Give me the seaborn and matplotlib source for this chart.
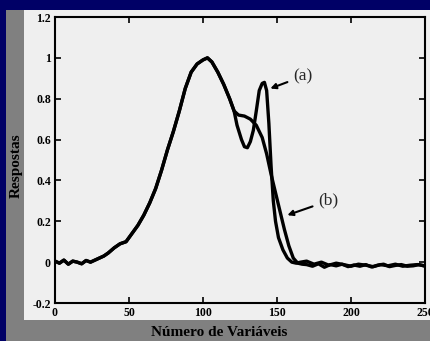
import numpy as np
import pandas as pd
import matplotlib
matplotlib.use("Agg")
import matplotlib.pyplot as plt
import seaborn as sns
from matplotlib.patches import Rectangle

# ---- data ----
x_common = [0, 3, 6, 9, 12, 15, 18, 21, 24, 27, 30, 33, 36, 40, 44, 48, 52, 56, 60, 64,
            68, 72, 76, 80, 84, 88, 92, 96, 100, 103, 106, 110, 114, 118, 121]
y_common = [0.005, -0.005, 0.01, -0.01, 0.005, 0.0, -0.008, 0.008, 0.0, 0.01, 0.02, 0.03,
            0.045, 0.07, 0.09, 0.10, 0.14, 0.18, 0.23, 0.29, 0.36, 0.45, 0.55, 0.64, 0.74,
            0.85, 0.93, 0.97, 0.99, 1.0, 0.98, 0.93, 0.87, 0.80, 0.74]

x_tail_b = [124, 128, 132, 136, 140, 143, 146, 149, 152, 155, 158, 161, 164, 167, 170,
            174, 178, 182, 186, 190, 194, 198, 202, 206, 210, 214, 218, 222, 226, 230,
            234, 238, 242, 246, 250]
y_tail_b = [0.72, 0.715, 0.70, 0.67, 0.61, 0.53, 0.43, 0.34, 0.25, 0.16, 0.08, 0.02,
            -0.005, -0.01, -0.012, -0.02, -0.008, -0.025, -0.012, -0.018, -0.01, -0.022,
            -0.014, -0.02, -0.012, -0.024, -0.015, -0.01, -0.022, -0.016, -0.012, -0.02,
            -0.018, -0.012, -0.02]

x_tail_a = [123, 126, 128, 130, 132, 134, 136, 138, 140, 141.5, 143, 144.5, 146, 147.5,
            149, 151, 154, 157, 160, 163, 166, 170, 175, 180, 185, 190, 195, 200, 205,
            210, 215, 220, 225, 230, 235, 240, 245, 250]
y_tail_a = [0.67, 0.60, 0.565, 0.56, 0.59, 0.645, 0.74, 0.84, 0.875, 0.88, 0.84, 0.68,
            0.47, 0.30, 0.20, 0.12, 0.06, 0.02, 0.0, -0.005, 0.0, 0.005, -0.01, 0.0,
            -0.015, -0.005, -0.012, -0.02, -0.01, -0.015, -0.022, -0.012, -0.018, -0.01,
            -0.02, -0.015, -0.012, -0.018]

x_ticks = [0, 50, 100, 150, 200, 250]
y_ticks = [-0.2, 0, 0.2, 0.4, 0.6, 0.8, 1, 1.2]
y_tick_labels = ["-0.2", "0", "0.2", "0.4", "0.6", "0.8", "1", "1.2"]

df = pd.concat([
    pd.DataFrame({"x": x_common + x_tail_a, "y": y_common + y_tail_a, "serie": "a"}),
    pd.DataFrame({"x": x_common + x_tail_b, "y": y_common + y_tail_b, "serie": "b"}),
], ignore_index=True)

sns.set_style("ticks")
plt.rcParams["font.family"] = ["Liberation Serif", "DejaVu Serif"]

fig = plt.figure(figsize=(4.30, 3.41), dpi=100)
fig.patch.set_facecolor("#000066")
W, H = 430, 341
# gray panel and light panel
fig.add_artist(Rectangle((6 / W, 0), 1, 1 - 10 / H, transform=fig.transFigure,
                         facecolor="#808080", edgecolor="none", zorder=-2))
fig.add_artist(Rectangle((24 / W, 21 / H), 1, 1 - 10 / H - 21 / H, transform=fig.transFigure,
                         facecolor="#efefef", edgecolor="none", zorder=-1))

ax = fig.add_axes([55 / W, 1 - 303 / H, (425 - 55) / W, (303 - 17) / H])
ax.set_facecolor("#efefef")

sns.lineplot(data=df, x="x", y="y", hue="serie", palette={"a": "black", "b": "black"},
             estimator=None, sort=False, legend=False, linewidth=2.4, ax=ax)

ax.set_xlim(0, 250)
ax.set_ylim(-0.2, 1.2)
ax.set_xticks(x_ticks)
ax.set_xticklabels([str(t) for t in x_ticks], fontweight="bold", fontsize=8.5)
ax.set_yticks(y_ticks)
ax.set_yticklabels(y_tick_labels, fontweight="bold", fontsize=8.5)
ax.tick_params(direction="in", length=4, width=1.2, top=True, right=True, pad=3,
               colors="black")
for s in ax.spines.values():
    s.set_linewidth(1.5)
    s.set_color("black")
    s.set_visible(True)

ax.set_xlabel("")
ax.set_ylabel("")
fig.text(219 / W, 1 - 332 / H, "Número de Variáveis", ha="center", va="center",
         fontsize=11, fontweight="bold", color="black")
fig.text(16 / W, 1 - 166 / H, "Respostas", ha="center", va="center", rotation=90,
         fontsize=11, fontweight="bold", color="black")

ax.annotate("(a)", xy=(145.5, 0.85), xytext=(161, 0.91), fontsize=12.5,
            va="center", ha="left",
            arrowprops=dict(arrowstyle="-|>", color="black", lw=1.5, mutation_scale=8,
                            shrinkA=2, shrinkB=0))
ax.annotate("(b)", xy=(157, 0.23), xytext=(178, 0.30), fontsize=12.5,
            va="center", ha="left",
            arrowprops=dict(arrowstyle="-|>", color="black", lw=1.5, mutation_scale=8,
                            shrinkA=2, shrinkB=0))

fig.savefig("out.png", dpi=100, facecolor=fig.get_facecolor())
